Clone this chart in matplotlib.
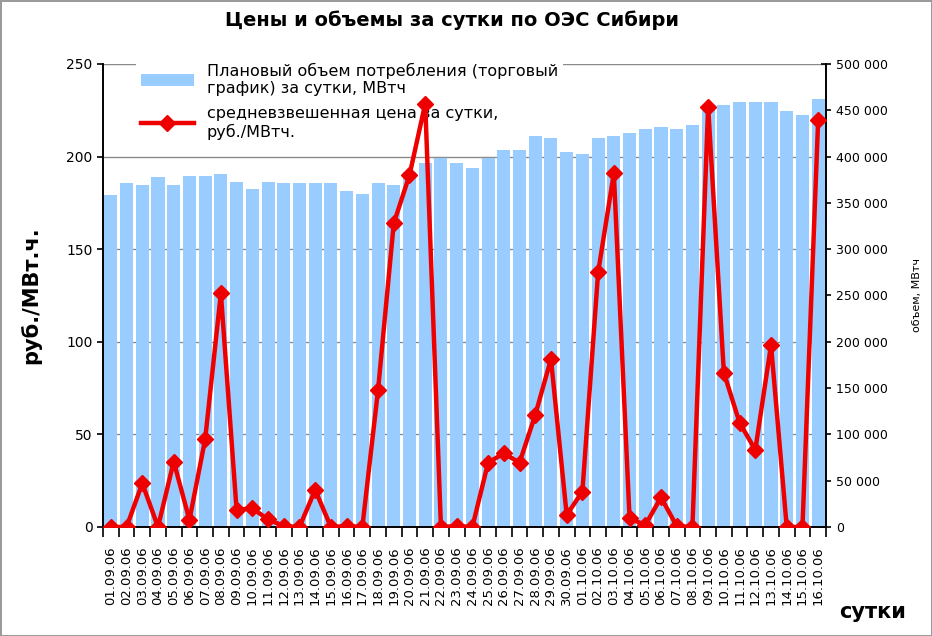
import matplotlib
matplotlib.use("Agg")
import matplotlib.pyplot as plt
import numpy as np
import pandas as pd

# дни: 01.09.06 - 16.10.06
days = list(pd.date_range("2006-09-01", "2006-10-16").strftime("%d.%m.%y"))

# плановый объем потребления, МВтч
volume = [358000, 371000, 369000, 378000, 369000, 379000, 379000, 381000,
          373000, 365000, 373000, 371000, 371000, 371000, 371000, 363000,
          360000, 371000, 369000, 383000, 393000, 399000, 393000, 388000,
          399000, 407000, 407000, 422000, 420000, 405000, 403000, 420000,
          422000, 426000, 430000, 432000, 430000, 434000, 452000, 456000,
          459000, 459000, 459000, 449000, 445000, 462000]

# средневзвешенная цена, руб./МВтч
price = [0, 0, 23.6, 0, 35.3, 3.8, 47.4, 126.2, 9.2, 10.1, 4.1, 0.5, 0, 20,
         0, 0.5, 0, 74, 164, 190, 228.5, 0, 0.5, 0, 34.7, 39.8, 34.7, 60.5,
         90.7, 6.5, 19.1, 137.5, 191, 4.7, 1, 16, 0.5, 0, 227, 83.3, 56.3,
         41.6, 98.3, 0, 0, 220]

price_ticks = [0, 50, 100, 150, 200, 250]
volume_ticks = list(range(0, 500001, 50000))

plt.rcParams['font.family'] = ['DejaVu Sans']

fig = plt.figure(figsize=(9.32, 6.36), dpi=100)
fig.patch.set_edgecolor('#9a9a9a')
fig.patch.set_linewidth(2)
fig.subplots_adjust(left=0.1105, right=0.8863, top=0.8994, bottom=0.1714)

ax_v = fig.add_subplot(111)
ax_p = ax_v.twinx()

x = np.arange(len(days))

# объем - столбцы (правая шкала)
ax_v.bar(x, volume, width=0.83, color='#99CCFF', zorder=2,
         label='Плановый объем потребления (торговый\nграфик) за сутки, МВтч')
ax_v.set_ylim(0, 500000)
ax_v.set_xlim(-0.5, len(days) - 0.5)
for t in price_ticks[1:]:
    ax_v.axhline(t / price_ticks[-1] * 500000, color='#8a8a8a', lw=1, zorder=1)

ax_v.yaxis.tick_right()
ax_v.yaxis.set_label_position('right')
ax_v.set_yticks(volume_ticks)
ax_v.set_yticklabels([f"{v:,}".replace(',', ' ') for v in volume_ticks], fontsize=9)
ax_v.tick_params(axis='y', direction='inout', length=7, width=1.2, pad=4)
ax_v.set_ylabel('объем, МВтч', fontsize=8, rotation=90)
ax_v.yaxis.set_label_coords(1.119, 0.5)

ax_v.set_xticks(x)
ax_v.set_xticklabels(days, rotation=90, fontsize=9.5)
ax_v.set_xticks(np.arange(-0.5, len(days)), minor=True)
ax_v.tick_params(axis='x', which='major', length=0, pad=14)
ax_v.tick_params(axis='x', which='minor', length=7, width=1.2, direction='out')

# цена - линия (левая шкала)
ax_p.plot(x, price, color='#EE0000', lw=3.2, marker='D', markersize=8,
          label='средневзвешенная цена за сутки,\nруб./МВтч.', zorder=3)
ax_p.set_ylim(0, 250)
ax_p.yaxis.tick_left()
ax_p.yaxis.set_label_position('left')
ax_p.set_yticks(price_ticks)
ax_p.tick_params(axis='y', direction='out', length=4, width=1.2, labelsize=10)
ax_p.set_ylabel('руб./МВт.ч.', fontsize=15, fontweight='bold')
ax_p.yaxis.set_label_coords(-0.085, 0.5)

for a in (ax_v, ax_p):
    a.spines['top'].set_visible(False)
    for s in ('left', 'right', 'bottom'):
        a.spines[s].set_linewidth(1.2)

# легенда: закрывает сетку, но под столбцами и линией
h1, l1 = ax_v.get_legend_handles_labels()
h2, l2 = ax_p.get_legend_handles_labels()
leg = ax_v.legend(h1 + h2, l1 + l2, loc='upper left',
                  bbox_to_anchor=(0.035, 1.03), fontsize=11.5,
                  frameon=True, facecolor='white', edgecolor='none',
                  framealpha=1, fancybox=False, handlelength=3.3,
                  labelspacing=0.6, borderpad=0.3)
leg.set_zorder(1.5)

fig.text(452 / 932, 1 - 20 / 636, 'Цены и объемы за сутки по ОЭС Сибири',
         ha='center', va='center', fontsize=14, fontweight='bold')
fig.text(873 / 932, 1 - 612 / 636, 'сутки', ha='center', va='center',
         fontsize=15, fontweight='bold')

fig.savefig('out.png', dpi=100, edgecolor=fig.get_edgecolor())
